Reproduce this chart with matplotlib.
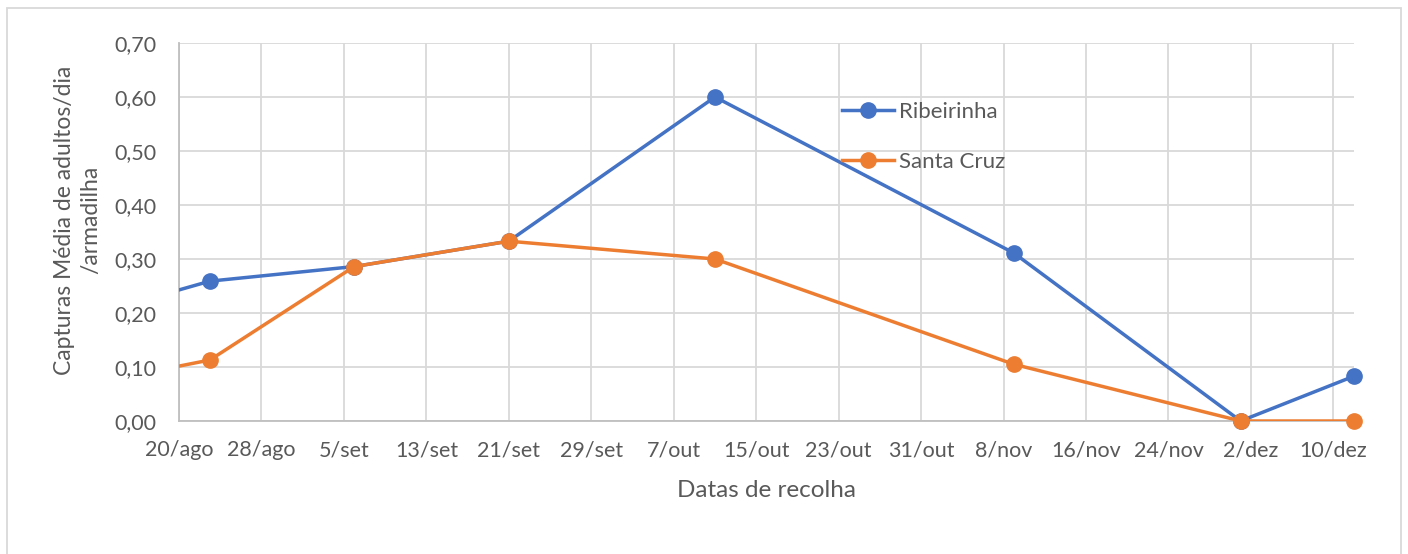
import matplotlib
matplotlib.use("Agg")
import matplotlib.pyplot as plt
from matplotlib.patches import Rectangle
import datetime as dt

# ---- data ----
dates = ["2019-08-09", "2019-08-23", "2019-09-06", "2019-09-21", "2019-10-11",
         "2019-11-09", "2019-12-01", "2019-12-12"]
ribeirinha = [0.183, 0.259, 0.286, 0.333, 0.600, 0.311, 0.000, 0.083]
santa_cruz = [0.060, 0.113, 0.286, 0.333, 0.300, 0.105, 0.000, 0.000]
series_names = ["Ribeirinha", "Santa Cruz"]
tick_dates = ["2019-08-20", "2019-08-28", "2019-09-05", "2019-09-13", "2019-09-21",
              "2019-09-29", "2019-10-07", "2019-10-15", "2019-10-23", "2019-10-31",
              "2019-11-08", "2019-11-16", "2019-11-24", "2019-12-02", "2019-12-10"]
tick_labels = ["20/ago", "28/ago", "5/set", "13/set", "21/set", "29/set", "7/out",
               "15/out", "23/out", "31/out", "8/nov", "16/nov", "24/nov", "2/dez", "10/dez"]
y_ticks = [0.0, 0.1, 0.2, 0.3, 0.4, 0.5, 0.6, 0.7]
y_labels = ["0,00", "0,10", "0,20", "0,30", "0,40", "0,50", "0,60", "0,70"]
x_start, x_end = "2019-08-20", "2019-12-12"

to_d = lambda s: dt.datetime.strptime(s, "%Y-%m-%d")
xd = [to_d(s) for s in dates]
xmin, xmax = to_d(x_start), to_d(x_end)

plt.rcParams['font.family'] = ['Lato', 'DejaVu Sans']
text_color = "#595959"

fig = plt.figure(figsize=(14.08, 5.54), dpi=100)
fig.patch.set_facecolor("white")
ax = fig.add_axes([179/1408, 1 - 421/554, (1354 - 179)/1408, (421 - 43)/554])

blue = "#4472C4"
orange = "#ED7D31"
for vals, col, name, z in [(ribeirinha, blue, series_names[0], 3),
                           (santa_cruz, orange, series_names[1], 4)]:
    ax.plot(xd, vals, color=col, lw=2.5, zorder=z)
    mx = [d for d in xd if xmin <= d <= xmax]
    my = [v for d, v in zip(xd, vals) if xmin <= d <= xmax]
    ax.plot(mx, my, ls="none", marker="o", ms=11, color=col, zorder=z + 0.5, clip_on=False)
    ax.plot([], [], color=col, lw=2.5, marker="o", ms=11, label=name)

ax.set_xlim(xmin, xmax)
ax.set_ylim(0, 0.70)
ax.set_xticks([to_d(s) for s in tick_dates])
ax.set_xticklabels(tick_labels)
ax.set_yticks(y_ticks)
ax.set_yticklabels(y_labels)

ax.tick_params(axis="both", length=0, labelsize=15.5, labelcolor=text_color)
ax.tick_params(axis="y", pad=16)
ax.tick_params(axis="x", pad=14)

ax.grid(True, color="#D9D9D9", lw=1.3)
ax.set_axisbelow(True)
for s in ["top", "right"]:
    ax.spines[s].set_visible(False)
for s in ["left", "bottom"]:
    ax.spines[s].set_color("#BFBFBF")
    ax.spines[s].set_linewidth(1.3)

ax.set_xlabel("Datas de recolha", fontsize=17.5, color=text_color, labelpad=14)
ax.set_ylabel("Capturas Média de adultos/dia\n/armadilha", fontsize=16.5, color=text_color,
              linespacing=1.3)
ax.yaxis.set_label_coords(-(179 - 101)/1175, (421 - 220)/378)

leg = ax.legend(loc="upper left", bbox_to_anchor=((833 - 179)/1175, (421 - 93)/378),
                frameon=False, fontsize=16, labelspacing=1.35, handlelength=2.35,
                handletextpad=0.2, borderaxespad=0)
for t in leg.get_texts():
    t.set_color(text_color)

fig.patches.append(Rectangle((7/1408, -0.02), (1401 - 7)/1408, 1.02 - 8/554,
                             transform=fig.transFigure, fill=False,
                             edgecolor="#D9D9D9", lw=1.3))

fig.savefig("out.png", dpi=100)
